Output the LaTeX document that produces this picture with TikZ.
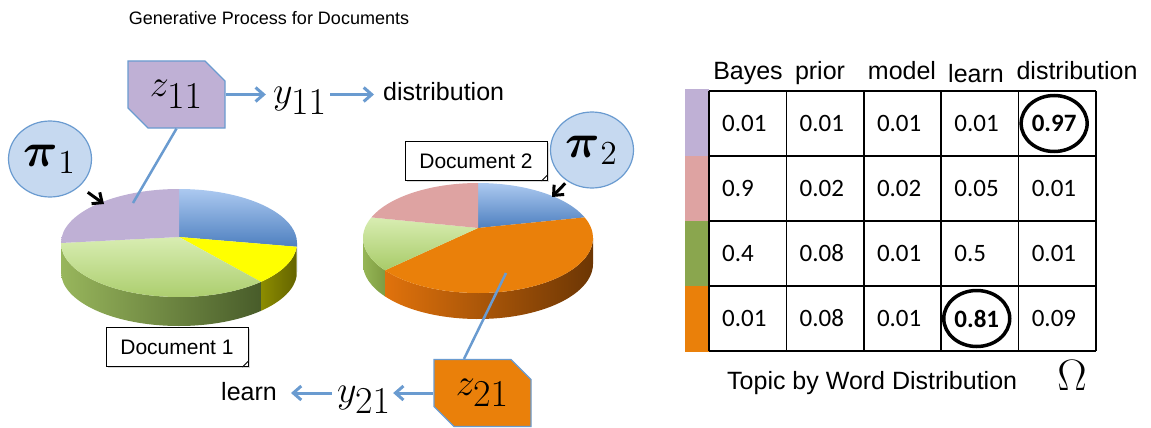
\RequirePackage{fix-cm}
\documentclass[tikz,border=0pt]{standalone}
\usepackage{amsmath,amssymb,graphicx}
\usepackage[no-math]{fontspec}
\newfontfamily\arialfont{Liberation Sans}
\newfontfamily\calibrifont{Carlito}
\usetikzlibrary{arrows.meta,shapes.geometric,shapes.misc,calc,shadows}

% formule agrandie (les fontes maths ne vont pas au-delà de 25pt)
\newcommand{\bigmath}[2]{\scalebox{#1}{\fontsize{20}{24}\selectfont$#2$}}

% couleurs des thèmes et des camemberts
\definecolor{linkblue}{RGB}{106,155,208}
\definecolor{bubble}{RGB}{198,217,240}
\definecolor{purp}{RGB}{191,176,213}
\definecolor{pinkt}{RGB}{222,163,162}
\definecolor{greent}{RGB}{138,166,78}
\definecolor{orng}{RGB}{234,128,10}
\definecolor{bluetop}{RGB}{172,201,240}
\definecolor{bluebot}{RGB}{78,128,192}
\definecolor{grntop}{RGB}{216,237,178}
\definecolor{grnbot}{RGB}{168,203,104}
\definecolor{grnsidel}{RGB}{152,182,92}
\definecolor{grnsider}{RGB}{72,92,42}
\definecolor{olivel}{RGB}{140,140,0}
\definecolor{oliver}{RGB}{100,100,0}
\definecolor{orngsidel}{RGB}{224,114,12}
\definecolor{orngsider}{RGB}{108,54,4}
\definecolor{grnsideb}{RGB}{150,182,86}
\definecolor{grnsidec}{RGB}{126,156,66}

\tikzset{
  flow/.style={draw=linkblue, line width=3pt, -{Straight Barb[length=8pt,width=14pt]}},
  link/.style={draw=linkblue, line width=2.5pt},
  pointer/.style={line width=3pt, -{Straight Barb[length=8pt,width=14pt]}},
  topicbox/.style={chamfered rectangle, chamfered rectangle corners={north east,south west},
    chamfered rectangle xsep=10pt, chamfered rectangle ysep=10pt, draw=linkblue, line width=1.2pt,
    minimum width=97pt, minimum height=67pt, inner sep=0pt},
  mathword/.style={anchor=base, inner sep=1pt},
  mixbubble/.style={ellipse, draw=linkblue, fill=bubble, line width=1.2pt, minimum width=83pt,
    minimum height=76pt, inner sep=0pt},
  doclabel/.style={draw, fill=white, line width=1pt, minimum width=142pt, minimum height=39pt,
    drop shadow={shadow xshift=1.5pt, shadow yshift=-1.5pt, opacity=0.3},
    font=\arialfont\fontsize{21}{25}\selectfont},
  word/.style={font=\arialfont\fontsize{25}{30}\selectfont},
  cell/.style={anchor=west, inner sep=0pt, font=\calibrifont\fontsize{25}{30}\selectfont},
  tableline/.style={line width=1.5pt},
  ring/.style={line width=3.5pt},
}

\begin{document}
\begin{tikzpicture}[x=1pt, y=-1pt]
  \useasboundingbox (0,0) rectangle (1151,428);

  % titre
  \node[anchor=base, font=\arialfont\fontsize{18}{21}\selectfont] (title) at (269,25) {Generative Process for Documents};

  % camembert du document 1 : côtés puis dessus
  \coordinate (pie1) at (179,243);
  \coordinate (pie1v) at (179,237);
  \foreach \a/\b/\cl/\cr in {0/4/bluebot/bluebot, 4/46/olivel/oliver, 46/180/grnsidel/grnsider}
    \shade[left color=\cl, right color=\cr] ($(pie1)+(\a:118 and 54)$)
      arc[start angle=\a, end angle=\b, x radius=118, y radius=54] -- ++(0,29)
      arc[start angle=\b, end angle=\a, x radius=118, y radius=54] -- cycle;
  \foreach \a/\b/\ct/\cb in {-90/4/bluetop/bluebot, 4/46/yellow/yellow, 46/180/grntop/grnbot, 180/270/purp/purp}
    \shade[top color=\ct, bottom color=\cb] (pie1v) -- ($(pie1)+(\a:118 and 54)$)
      arc[start angle=\a, end angle=\b, x radius=118, y radius=54] -- cycle;

  % camembert du document 2
  \coordinate (pie2) at (478,238);
  \coordinate (pie2v) at (478,228);
  \foreach \a/\b/\cl/\cr in {0/144/orngsidel/orngsider, 144/180/grnsideb/grnsidec}
    \shade[left color=\cl, right color=\cr] ($(pie2)+(\a:115 and 55)$)
      arc[start angle=\a, end angle=\b, x radius=115, y radius=55] -- ++(0,26)
      arc[start angle=\b, end angle=\a, x radius=115, y radius=55] -- cycle;
  \foreach \a/\b/\ct/\cb in {-90/-22/bluetop/bluebot, -22/144/orng/orng, 144/202/grntop/grnbot, 202/270/pinkt/pinkt}
    \shade[top color=\ct, bottom color=\cb] (pie2v) -- ($(pie2)+(\a:115 and 55)$)
      arc[start angle=\a, end angle=\b, x radius=115, y radius=55] -- cycle;

  % étiquettes des documents (coin replié)
  \node[doclabel] (doc1) at (177,347) {Document 1};
  \node[doclabel] (doc2) at (476,161) {Document 2};
  \foreach \d in {doc1,doc2}
    \draw[line width=0.8pt, fill=white] ([shift={(-6,0)}]\d.south east) -- ([shift={(0,-6)}]\d.south east)
      -- ([shift={(-4,-2)}]\d.south east) -- cycle;

  % proportions des thèmes
  \node[mixbubble] (pi1) at (50,159) {\bigmath{2.4}{\boldsymbol{\pi}_1}};
  \node[mixbubble] (pi2) at (592,150) {\bigmath{2.4}{\boldsymbol{\pi}_2}};
  \coordinate (p1tip) at (104,204);
  \coordinate (p2tip) at (552,197);
  \draw[pointer] ([shift={(8,6)}]pi1.south east) -- (p1tip);
  \draw[pointer] ([shift={(3,6)}]pi2.south west) -- (p2tip);

  % thème z11 -> mot y11
  \node[topicbox, fill=purp] (z11) at (176.5,94.5) {\bigmath{1.9}{z_{\textstyle 11}}};
  \node[mathword] (y11) at (300,103) {\bigmath{1.9}{y_{\textstyle 11}}};
  \node[word, anchor=base west, inner sep=0pt] (w11) at (383,100) {distribution};
  \draw[flow, shorten >=6pt] (z11.east) -- (z11.east -| y11.west);
  \draw[flow, shorten <=2pt, shorten >=9pt] (z11.east -| y11.east) -- (z11.east -| w11.west);
  \coordinate (p1hit) at (133,203);
  \draw[link] (z11.south) -- (p1hit);

  % thème z21 -> mot y21
  \node[topicbox, fill=orng] (z21) at (482.5,393) {\bigmath{1.9}{z_{\textstyle 21}}};
  \node[mathword] (y21) at (364,402) {\bigmath{1.9}{y_{\textstyle 21}}};
  \node[word, anchor=base east, inner sep=0pt] (w21) at (277,400) {learn};
  \draw[flow, shorten >=1pt] (z21.west) -- (z21.west -| y21.east);
  \draw[flow, shorten <=4pt, shorten >=14pt] (z21.west -| y21.west) -- (z21.west -| w21.east);
  \coordinate (p2hit) at (506,273);
  \draw[link] ([xshift=-18.5pt]z21.north) -- (p2hit);

  % tableau thème x mot
  \fill[purp] (685,89) rectangle (709,156);
  \fill[pinkt] (685,156) rectangle (709,221);
  \fill[greent] (685,221) rectangle (709,286);
  \fill[orng] (685,286) rectangle (709,352);
  \foreach \i in {0,...,5}
    \draw[tableline] (709+77.4*\i,91) -- (709+77.4*\i,351);
  \foreach \j in {0,...,4}
    \draw[tableline] (709,91+65*\j) -- (1096,91+65*\j);

  \node[word, anchor=base] (hbayes) at (748,80) {Bayes};
  \node[word, anchor=base] (hprior) at (820,80) {prior};
  \node[word, anchor=base] (hmodel) at (902,80) {model};
  \node[word, anchor=base] (hlearn) at (976,82) {learn};
  \node[word, anchor=base] (hdist) at (1077,80) {distribution};

  \foreach \vals [count=\r] in {{0.01,0.01,0.01,0.01,\textbf{0.97}},{0.9,0.02,0.02,0.05,0.01},
                                {0.4,0.08,0.01,0.5,0.01},{0.01,0.08,0.01,\textbf{0.81},0.09}}
    \foreach \v [count=\c] in \vals
      \node[cell] (c\r\c) at (644.6+77.4*\c,58.5+65*\r) {\v};

  \draw[ring] (c15.center) ellipse [x radius=33, y radius=28];
  \draw[ring] (c44.center) ellipse [x radius=33, y radius=28];

  \node[word, anchor=base west, inner sep=0pt] (caption) at (727,389) {Topic by Word Distribution};
  \node[anchor=base] (omega) at (1072,390) {\bigmath{2.2}{\Omega}};
\end{tikzpicture}
\end{document}
